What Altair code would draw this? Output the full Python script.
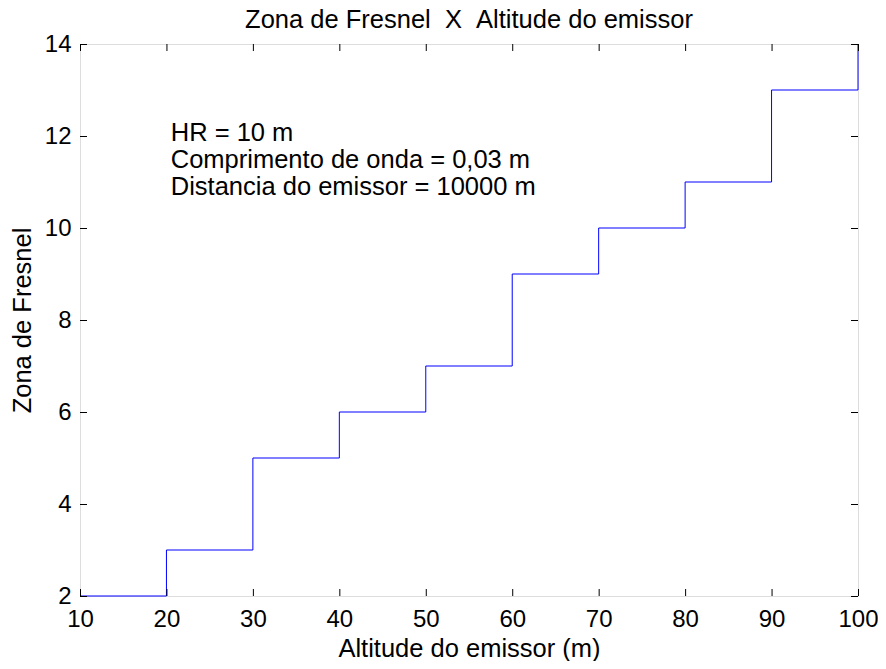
import altair as alt
import pandas as pd

# Data
altitude = [10, 20, 30, 40, 50, 60, 70, 80, 90, 100]
zona = [2, 3, 5, 6, 7, 9, 10, 11, 13, 14]
x_ticks = [10, 20, 30, 40, 50, 60, 70, 80, 90, 100]
y_ticks = [2, 4, 6, 8, 10, 12, 14]
annotation_lines = ["HR = 10 m", "Comprimento de onda = 0,03 m", "Distancia do emissor = 10000 m"]
annot_x = [20.5]
annot_y = [11.9]
title_text = ["Zona de Fresnel \u00a0X \u00a0Altitude do emissor"]

W, H = 778, 552
FONT = "Liberation Sans"
FS = 25.5
TFS = 24

df = pd.DataFrame({"Altitude": altitude, "Zona": zona})
xt = pd.DataFrame({"t": x_ticks})
yt = pd.DataFrame({"t": y_ticks})
ann = pd.DataFrame({"x": annot_x, "y": annot_y, "text": ["\n".join(annotation_lines)]})
ttl = pd.DataFrame({"text": title_text})

xscale = alt.Scale(domain=[10, 100], nice=False, zero=False)
yscale = alt.Scale(domain=[2, 14], nice=False, zero=False)

xaxis = alt.Axis(values=x_ticks, title="Altitude do emissor (m)", grid=False, domain=False,
                 ticks=False, tickSize=0, labelPadding=11, labelFont=FONT, labelFontSize=TFS,
                 labelColor="black", titleFont=FONT, titleFontSize=FS, titleFontWeight="normal",
                 titleColor="black", titleY=60, titleBaseline="alphabetic", labelFlush=False)
yaxis = alt.Axis(values=y_ticks, title="Zona de Fresnel", grid=False, domain=False,
                 ticks=False, tickSize=0, labelPadding=9, labelFont=FONT, labelFontSize=TFS,
                 labelColor="black", titleFont=FONT, titleFontSize=FS, titleFontWeight="normal",
                 titleColor="black", titleX=-50, titleBaseline="alphabetic", labelFlush=False)

line = alt.Chart(df).mark_line(interpolate="step-after", color="#0000ff", strokeWidth=1).encode(
    x=alt.X("Altitude:Q", scale=xscale, axis=xaxis),
    y=alt.Y("Zona:Q", scale=yscale, axis=yaxis),
)

TL = 7
tick_style = dict(color="black", strokeWidth=1)
bottom_ticks = alt.Chart(xt).mark_rule(xOffset=0.5, **tick_style).encode(
    x=alt.X("t:Q", scale=xscale), y=alt.value(H), y2=alt.value(H - TL))
top_ticks = alt.Chart(xt).mark_rule(xOffset=0.5, **tick_style).encode(
    x=alt.X("t:Q", scale=xscale), y=alt.value(0), y2=alt.value(TL))
left_ticks = alt.Chart(yt).mark_rule(yOffset=0.5, **tick_style).encode(
    y=alt.Y("t:Q", scale=yscale), x=alt.value(0), x2=alt.value(TL))
right_ticks = alt.Chart(yt).mark_rule(yOffset=0.5, **tick_style).encode(
    y=alt.Y("t:Q", scale=yscale), x=alt.value(W), x2=alt.value(W - TL))

text = alt.Chart(ann).mark_text(align="left", baseline="alphabetic", font=FONT, fontSize=FS,
                                lineBreak="\n", lineHeight=27, color="black").encode(
    x=alt.X("x:Q", scale=xscale), y=alt.Y("y:Q", scale=yscale), text="text:N")

title = alt.Chart(ttl).mark_text(align="center", baseline="alphabetic", font=FONT, fontSize=FS,
                                 color="black").encode(
    x=alt.value(W / 2), y=alt.value(-16), text="text:N")

chart = alt.layer(line, bottom_ticks, top_ticks, left_ticks, right_ticks, text, title).properties(
    width=W, height=H,
    autosize=alt.AutoSizeParams(type="none"),
    padding={"left": 72, "top": 36, "right": 20, "bottom": 65},
).configure_view(stroke="black", strokeWidth=1).configure(background="white")

chart.save("out.html", embed_options={"renderer": "svg", "actions": False})
